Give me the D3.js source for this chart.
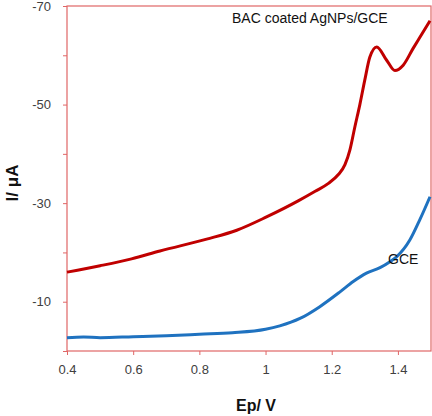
<!DOCTYPE html>
<html>
<head>
<meta charset="utf-8">
<script src="https://cdn.jsdelivr.net/npm/d3@7"></script>
<style>
  body { margin: 0; background: #fff; }
  svg { display: block; font-family: "Liberation Sans", Arial, sans-serif; }
</style>
</head>
<body>
<svg id="chart" width="432" height="416"></svg>
<script>
// potential (V) and current (uA, negative up)
const bacE = [0.4, 0.5, 0.595, 0.681, 0.822, 0.913, 1.003, 1.10, 1.15, 1.19, 1.22, 1.24, 1.255, 1.27, 1.285, 1.30, 1.315, 1.336, 1.366, 1.391, 1.416, 1.446, 1.466, 1.497];
const bacI = [-16.0, -17.3, -18.7, -20.3, -22.7, -24.5, -27.2, -30.5, -32.4, -34.0, -35.8, -37.8, -40.8, -45.5, -50.0, -55.0, -59.6, -61.7, -59.0, -56.9, -58.0, -61.4, -63.6, -67.0];

const gceE = [0.4, 0.45, 0.5, 0.6, 0.7, 0.8, 0.9, 1.0, 1.043, 1.104, 1.164, 1.225, 1.265, 1.305, 1.346, 1.376, 1.396, 1.436, 1.466, 1.497];
const gceI = [-2.7, -2.85, -2.7, -2.9, -3.1, -3.4, -3.7, -4.4, -5.1, -6.6, -9.0, -12.0, -14.1, -15.8, -16.9, -18.1, -19.1, -22.5, -26.6, -31.3];

const xTicks = [0.4, 0.6, 0.8, 1, 1.2, 1.4];
const yTicks = [0, -10, -20, -30, -40, -50, -60, -70];
const yLabelled = [-10, -30, -50, -70];

function makeChart() {
    let svg = d3.select("#chart");
    let margin = {top: 6, right: 1, bottom: 65, left: 67};
    let width = +svg.attr("width") - margin.left - margin.right;
    let height = +svg.attr("height") - margin.top - margin.bottom;

    let x = d3.scaleLinear().domain([0.4, 1.5]).range([0, width]);
    let y = d3.scaleLinear().domain([0, -70]).range([height, 0]);

    let g = svg.append("g")
        .attr("transform", `translate(${margin.left},${margin.top})`);

    // x axis
    g.append("g")
        .attr("transform", `translate(0,${height})`)
        .call(d3.axisBottom(x).tickValues(xTicks).tickSize(4).tickPadding(10)
            .tickFormat(d => d === 1 ? "1" : d3.format(".1f")(d)))
        .call(a => a.select(".domain").remove())
        .call(a => a.selectAll(".tick line").attr("stroke", "#e06666"))
        .call(a => a.selectAll(".tick text").style("font-size", "13px").attr("fill", "#404040"));

    // y axis
    g.append("g")
        .call(d3.axisLeft(y).tickValues(yTicks).tickSize(4).tickPadding(12)
            .tickFormat(d => yLabelled.includes(d) ? d : ""))
        .call(a => a.select(".domain").remove())
        .call(a => a.selectAll(".tick line").attr("stroke", "#e06666"))
        .call(a => a.selectAll(".tick text").style("font-size", "13px").attr("fill", "#404040"));

    // frame
    g.append("rect")
        .attr("width", width)
        .attr("height", height)
        .attr("fill", "none")
        .attr("stroke", "#e06666")
        .attr("stroke-width", 1.2);

    let line = d3.line()
        .x(d => x(d[0]))
        .y(d => y(d[1]))
        .curve(d3.curveMonotoneX);

    g.append("path")
        .datum(gceE.map((e, i) => [e, gceI[i]]))
        .attr("fill", "none")
        .attr("stroke", "#1f72c0")
        .attr("stroke-width", 3)
        .attr("d", line);

    g.append("path")
        .datum(bacE.map((e, i) => [e, bacI[i]]))
        .attr("fill", "none")
        .attr("stroke", "#c00000")
        .attr("stroke-width", 3)
        .attr("d", line);

    // curve labels
    svg.append("text")
        .attr("x", 232)
        .attr("y", 22.5)
        .style("font-size", "14px")
        .attr("fill", "#111")
        .text("BAC coated AgNPs/GCE");

    svg.append("text")
        .attr("x", 388)
        .attr("y", 263.5)
        .style("font-size", "14px")
        .attr("fill", "#111")
        .text("GCE");

    // axis titles
    svg.append("text")
        .attr("x", 256)
        .attr("y", 411)
        .attr("text-anchor", "middle")
        .style("font-size", "16px")
        .style("font-weight", "bold")
        .attr("fill", "#111")
        .text("Ep/ V");

    svg.append("text")
        .attr("transform", "translate(18,183) rotate(-90)")
        .attr("text-anchor", "middle")
        .style("font-size", "17px")
        .style("font-weight", "bold")
        .attr("fill", "#111")
        .text("I/ μA");
}

makeChart();
</script>
</body>
</html>
